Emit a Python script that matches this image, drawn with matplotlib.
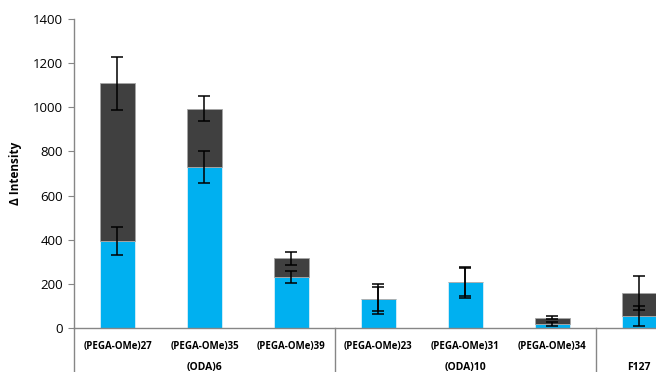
import numpy as np
import matplotlib.pyplot as plt
from matplotlib.transforms import blended_transform_factory

plt.rcParams['font.family'] = ['Open Sans', 'DejaVu Sans']

labels = ['(PEGA-OMe)27', '(PEGA-OMe)35', '(PEGA-OMe)39',
          '(PEGA-OMe)23', '(PEGA-OMe)31', '(PEGA-OMe)34', '']
groups = ['(ODA)6', '(ODA)10', 'F127']
group_centers = [1, 4, 6]
group_edges = [-0.5, 2.5, 5.5, 6.5]

# lower (cyan) segment and upper (dark) segment of each stack
lower = [394, 728, 231, 131, 207, 18, 54]
lower_err = [65, 73, 26, 67, 71, 10, 44]
upper = [716, 266, 85, 0, 0, 30, 106]
upper_err = [120, 58, 30, 55, 63, 8, 77]

cyan = '#00B0F0'
dark = '#404040'
axis_gray = '#868686'

fig = plt.figure(figsize=(6.56, 3.72), dpi=100)
ax = fig.add_axes([0.1128, 0.118, 0.928, 0.831])

x = np.arange(len(labels))
w = 0.4
err_kw = dict(ecolor='black', elinewidth=1.1, capsize=4, capthick=1.1)

ax.bar(x, lower, w, color=cyan, edgecolor='#d9eef8', linewidth=0.6)
ax.bar(x, upper, w, bottom=lower, color=dark, edgecolor='#a6a6a6', linewidth=0.6)
tops = np.array(lower) + np.array(upper)
ax.errorbar(x, lower, yerr=lower_err, fmt='none', **err_kw)
ax.errorbar(x, tops, yerr=upper_err, fmt='none', **err_kw)

ax.set_xlim(-0.5, 6.5)
ax.set_ylim(0, 1400)
ax.set_yticks(np.arange(0, 1401, 200))
ax.set_xticks(x)
ax.set_xticklabels(labels, fontsize=7, fontweight='bold')
ax.tick_params(axis='x', length=0, pad=9)
ax.tick_params(axis='y', direction='out', length=4, color=axis_gray,
               labelsize=9.5, pad=4)
ax.set_ylabel('Δ Intensity', fontsize=8.5, fontweight='bold', labelpad=8)

for side in ['top', 'right']:
    ax.spines[side].set_visible(False)
for side in ['left', 'bottom']:
    ax.spines[side].set_color(axis_gray)
    ax.spines[side].set_linewidth(1)

# group dividers below the category axis
trans = blended_transform_factory(ax.transData, ax.transAxes)
for xe in group_edges:
    ax.plot([xe, xe], [0, -0.2], color=axis_gray, lw=1,
            transform=trans, clip_on=False)
for xc, g in zip(group_centers, groups):
    ax.text(xc, -0.129, g, transform=trans, ha='center', va='center',
            fontsize=7.5, fontweight='bold')

fig.savefig('out.png', dpi=100)
